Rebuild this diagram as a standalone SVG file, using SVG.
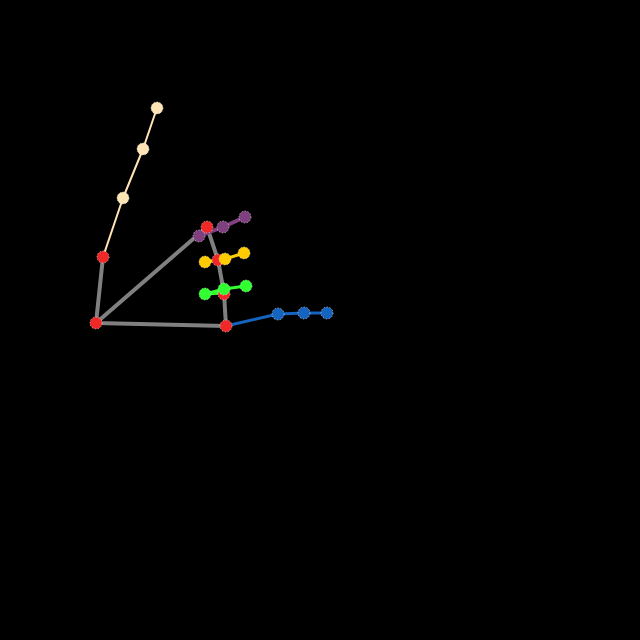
<svg xmlns="http://www.w3.org/2000/svg" width="640" height="640" viewBox="0 0 640 640">
<style>
.c{stroke-linecap:round;stroke-linejoin:round;fill:none}
.palm{stroke:#808080;stroke-width:4}
.thumb{stroke:#ffe4b5;stroke-width:2}
.index{stroke:#804080;stroke-width:4}
.middle{stroke:#ffcc00;stroke-width:3}
.ring{stroke:#30ff30;stroke-width:3}
.pinky{stroke:#1565c0;stroke-width:3}
circle{stroke:#ffffff;stroke-opacity:0.5;stroke-width:1;stroke-dasharray:1.5 1.5}
.r{fill:#f02828}
.t{fill:#ffe4b5}
.i{fill:#804080}
.m{fill:#ffcc00}
.g{fill:#30ff30}
.b{fill:#1565c0}
</style>
<rect width="640" height="640" fill="#000"/>
<g id="connectors">
<path class="c palm" d="M96,323 L103,257 M96,323 L207,227 L218,260 L224,293 L226,326 L96,323"/>
<path class="c thumb" d="M103,257 L123,198 L143,149 L157,108"/>
<path class="c index" d="M207,227 L199,236 L223,227 L245,217"/>
<path class="c middle" d="M218,260 L205,262 L225,259 L244,253"/>
<path class="c ring" d="M224,293 L205,294 L224,289 L246,286"/>
<path class="c pinky" d="M226,326 L278,314 L304,313 L327,313"/>
</g>
<g id="wrist"><circle class="r" cx="96" cy="323" r="6"/></g>
<g id="thumb">
<circle class="r" cx="103" cy="257" r="6"/>
<circle class="t" cx="123" cy="198" r="6"/>
<circle class="t" cx="143" cy="149" r="6"/>
<circle class="t" cx="157" cy="108" r="6"/>
</g>
<g id="index">
<circle class="r" cx="207" cy="227" r="6"/>
<circle class="i" cx="199" cy="236" r="6"/>
<circle class="i" cx="223" cy="227" r="6"/>
<circle class="i" cx="245" cy="217" r="6"/>
</g>
<g id="middle">
<circle class="r" cx="218" cy="260" r="6"/>
<circle class="m" cx="205" cy="262" r="6"/>
<circle class="m" cx="225" cy="259" r="6"/>
<circle class="m" cx="244" cy="253" r="6"/>
</g>
<g id="ring">
<circle class="r" cx="224" cy="294" r="6"/>
<circle class="g" cx="205" cy="294" r="6"/>
<circle class="g" cx="224" cy="289" r="6"/>
<circle class="g" cx="246" cy="286" r="6"/>
</g>
<g id="pinky">
<circle class="r" cx="226" cy="326" r="6"/>
<circle class="b" cx="278" cy="314" r="6"/>
<circle class="b" cx="304" cy="313" r="6"/>
<circle class="b" cx="327" cy="313" r="6"/>
</g>
</svg>
